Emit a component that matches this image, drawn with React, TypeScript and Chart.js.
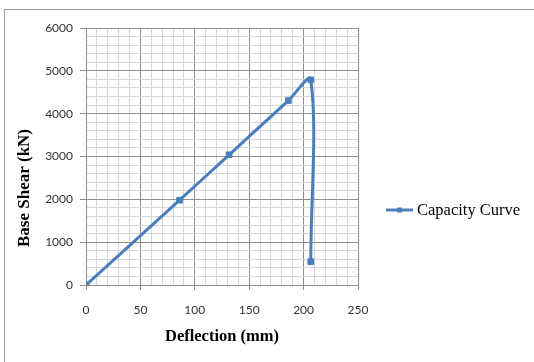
import React, { useEffect, useRef } from "react";
import { Chart, registerables } from "chart.js";

Chart.register(...registerables);

// Data
const deflection: number[] = [0, 86, 131.5, 186, 206.6, 206.6];
const baseShear: number[] = [0, 1980, 3040, 4306, 4790, 545];
const seriesLabel = "Capacity Curve";

const xTickValues: number[] = [0, 50, 100, 150, 200, 250];
const yTickValues: number[] = [0, 1000, 2000, 3000, 4000, 5000, 6000];
const xTitle = "Deflection (mm)";
const yTitle = "Base Shear (kN)";

const LINE_COLOR = "#4a7ebb";
const MAJOR_GRID = "#8f8f8f";
const MINOR_GRID = "#d6d6d6";
const TICK_COLOR = "#333333";

const customPlugin = {
  id: "customDecor",
  afterDraw(chart: any) {
    const ctx = chart.ctx as CanvasRenderingContext2D;
    const area = chart.chartArea;
    // y-axis title
    ctx.save();
    ctx.fillStyle = "#000";
    ctx.font = 'bold 17px "Liberation Serif"';
    ctx.textAlign = "center";
    ctx.textBaseline = "middle";
    ctx.translate(24.5, 188);
    ctx.rotate(-Math.PI / 2);
    ctx.fillText(yTitle, 0, 0);
    ctx.restore();

    // legend
    const ly = 210;
    const lx0 = area.right + 28;
    const lx1 = lx0 + 27;
    ctx.save();
    ctx.strokeStyle = LINE_COLOR;
    ctx.lineWidth = 3;
    ctx.beginPath();
    ctx.moveTo(lx0, ly);
    ctx.lineTo(lx1, ly);
    ctx.stroke();
    ctx.fillStyle = LINE_COLOR;
    ctx.fillRect((lx0 + lx1) / 2 - 2.5, ly - 2.5, 5, 5);
    ctx.fillStyle = "#000";
    ctx.font = '16.5px "Liberation Serif"';
    ctx.textAlign = "left";
    ctx.textBaseline = "middle";
    ctx.fillText(chart.data.datasets[0].label, lx1 + 4, ly + 1);
    ctx.restore();
  },
};

export default function App() {
  const canvasRef = useRef<HTMLCanvasElement | null>(null);

  useEffect(() => {
    if (!canvasRef.current) return;
    const points = deflection.map((x, i) => ({ x, y: baseShear[i] }));
    const chart = new Chart(canvasRef.current, {
      type: "line",
      data: {
        datasets: [
          {
            label: seriesLabel,
            data: points,
            borderColor: LINE_COLOR,
            backgroundColor: LINE_COLOR,
            borderWidth: 3,
            tension: 0.35,
            pointStyle: "rect",
            pointRadius: 4,
            pointBorderWidth: 1,
            pointBorderColor: LINE_COLOR,
            pointBackgroundColor: LINE_COLOR,
            fill: false,
          },
        ],
      },
      options: {
        animation: false,
        responsive: true,
        maintainAspectRatio: false,
        layout: { padding: { left: 0, top: 28, right: 176, bottom: 0 } },
        plugins: {
          legend: { display: false },
          tooltip: { enabled: false },
        },
        scales: {
          x: {
            type: "linear",
            min: 0,
            max: 250,
            afterFit(scale: any) {
              scale.height = 77;
            },
            ticks: {
              stepSize: 10,
              autoSkip: false,
              maxRotation: 0,
              padding: 13,
              color: TICK_COLOR,
              font: { family: "Lato", size: 12 },
              callback: (v: any) => (xTickValues.includes(Number(v)) ? String(v) : ""),
            },
            grid: {
              color: (c: any) => (xTickValues.includes(c.tick?.value) ? MAJOR_GRID : MINOR_GRID),
              tickColor: (c: any) => (xTickValues.includes(c.tick?.value) ? MAJOR_GRID : "rgba(0,0,0,0)"),
              tickLength: 5,
              lineWidth: 1,
            },
            border: { color: MAJOR_GRID, width: 1 },
            title: {
              display: true,
              text: xTitle,
              color: "#000",
              font: { family: "Liberation Serif", size: 16.5, weight: "bold" },
              padding: { top: 0, bottom: 15 },
            },
          },
          y: {
            type: "linear",
            min: 0,
            max: 6000,
            afterFit(scale: any) {
              scale.width = 86;
            },
            ticks: {
              stepSize: 200,
              autoSkip: false,
              padding: 7,
              color: TICK_COLOR,
              font: { family: "Lato", size: 12 },
              callback: (v: any) => (yTickValues.includes(Number(v)) ? String(v) : ""),
            },
            grid: {
              color: (c: any) => (yTickValues.includes(c.tick?.value) ? MAJOR_GRID : MINOR_GRID),
              tickColor: (c: any) => (yTickValues.includes(c.tick?.value) ? MAJOR_GRID : "rgba(0,0,0,0)"),
              tickLength: 6,
              lineWidth: 1,
            },
            border: { color: MAJOR_GRID, width: 1 },
            title: { display: false },
          },
        },
      },
      plugins: [customPlugin],
    });
    return () => chart.destroy();
  }, []);

  return (
    <div style={{ position: "absolute", left: 0, top: 0, width: 534, height: 362, background: "#fff" }}>
      <div
        style={{
          position: "absolute",
          left: 4,
          top: 9,
          right: 0,
          bottom: 0,
          borderTop: "1px solid #9a9a9a",
          borderLeft: "1px solid #9a9a9a",
        }}
      />
      <canvas ref={canvasRef} style={{ position: "relative" }} />
    </div>
  );
}
